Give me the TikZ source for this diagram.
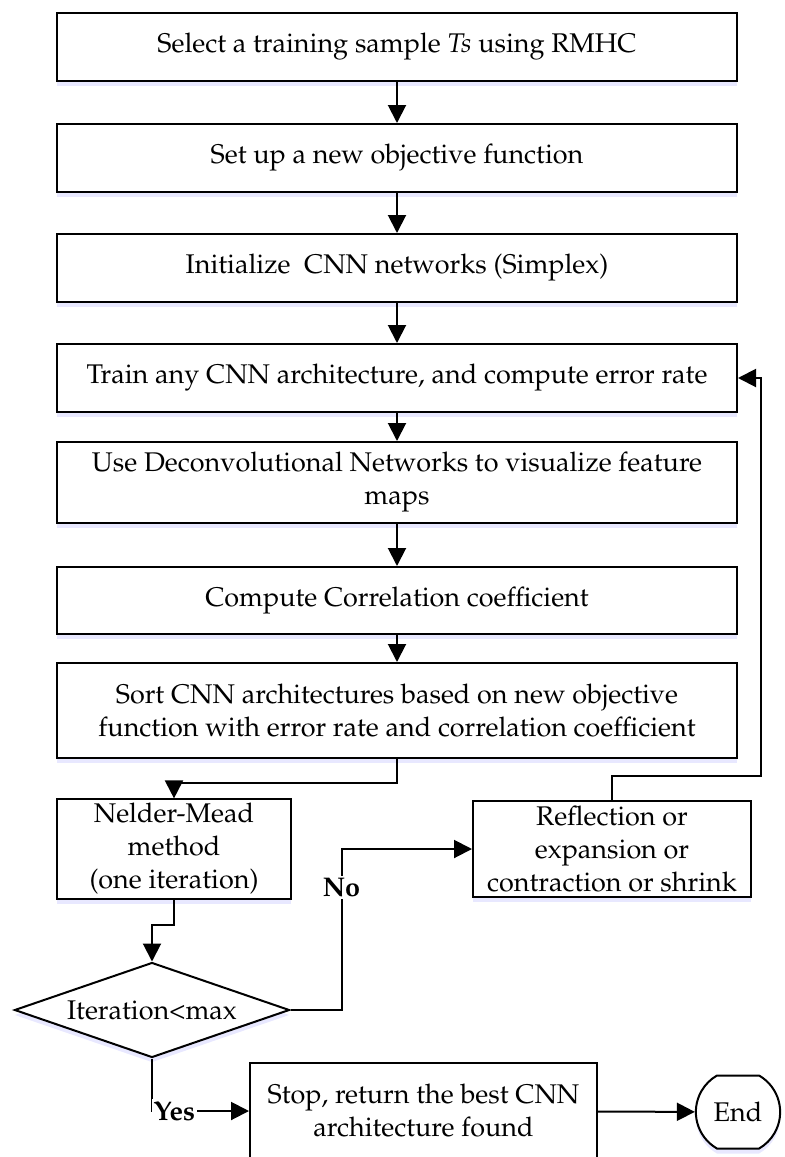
\documentclass[tikz,border=0pt]{standalone}
\usepackage[T1]{fontenc}
\usepackage{mathpazo}
\usetikzlibrary{shapes.geometric,shapes.misc,arrows.meta,shadows}

\tikzset{
	box/.style={draw,line width=1pt,fill=white,align=center,inner sep=2pt,font=\fontsize{13.5}{16.5}\selectfont,drop shadow={shadow xshift=0pt,shadow yshift=-2.5pt,fill=blue!30,opacity=0.3}},
	wide/.style={box,minimum width=340pt},
	arr/.style={line width=1pt,-{Triangle[length=9pt,width=9pt]}},
	lbl/.style={fill=white,inner sep=1pt,font=\fontsize{13.5}{16.5}\selectfont\bfseries},
}

\begin{document}
\begin{tikzpicture}[x=0.5pt,y=-0.5pt]
	\useasboundingbox (0,0) rectangle (785,1157);
	\node[wide,minimum height=34pt] (select) at (397,47) {Select a training sample \textit{Ts} using RMHC};
	\node[wide,minimum height=34pt] (setup) at (397,158) {Set up a new objective function};
	\node[wide,minimum height=34pt] (init) at (397,268) {Initialize~ CNN networks (Simplex)};
	\node[wide,minimum height=34pt] (train) at (397,378) {Train any CNN architecture, and compute error rate};
	\node[wide,minimum height=40.5pt] (deconv) at (397,482.5) {Use Deconvolutional Networks to visualize feature\\maps};
	\node[wide,minimum height=33.5pt] (corr) at (397,600.5) {Compute Correlation coefficient};
	\node[wide,minimum height=47.5pt] (sort) at (397,710.5) {Sort CNN architectures based on new objective\\function with error rate and correlation coefficient};
	\node[box,minimum width=117pt,minimum height=48pt] (nm) at (174,849) {Nelder-Mead\\method\\(one iteration)};
	\node[box,minimum width=139pt,minimum height=48pt] (refl) at (612,849) {Reflection or\\expansion or\\contraction or shrink};
	\node[box,diamond,aspect=2.9,inner sep=0pt,minimum width=137.5pt,minimum height=47.5pt] (iter) at (152,1010) {Iteration\textless max};
	\node[box,minimum width=173.5pt,minimum height=48pt] (stop) at (423.5,1111) {Stop, return the best CNN\\architecture found};
	\node[box,rounded rectangle,rounded rectangle arc length=120,minimum width=46pt,minimum height=36.5pt] (end) at (738,1112) {End};
	\draw[arr] (select) -- (setup);
	\draw[arr] (setup) -- (init);
	\draw[arr] (init) -- (train);
	\draw[arr] (train) -- (deconv);
	\draw[arr] (deconv) -- (corr);
	\draw[arr] (corr) -- (sort);
	\draw[arr] (sort.south) -- ++(0,24) -| (nm.north);
	\draw[arr] (nm.south) -- ++(0,25) -| (iter.north);
	\draw[arr] (iter.east) -- ++(51,0) |- node[lbl,pos=0.38]{No} (refl.west);
	\draw[arr] (refl.north) -- ++(0,-24) -- ++(149,0) |- (train.east);
	\draw[arr] (iter.south) |- node[lbl,pos=0.615]{Yes} (stop.west);
	\draw[arr] (stop) -- (end);
\end{tikzpicture}
\end{document}
